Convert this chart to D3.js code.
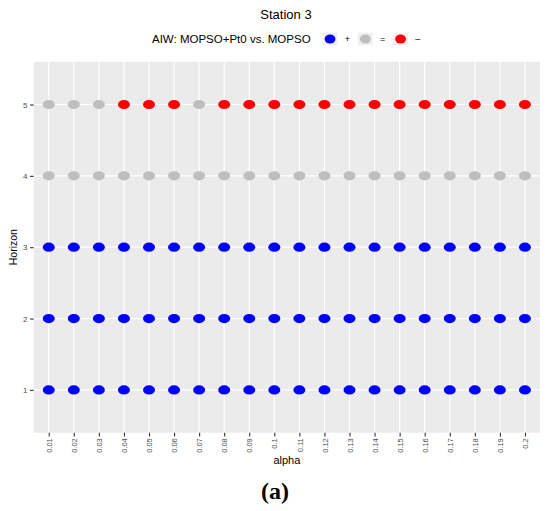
<!DOCTYPE html>
<html>
<head>
<meta charset="utf-8">
<script src="https://cdn.jsdelivr.net/npm/d3@7"></script>
<style>
  body { margin: 0; background: #fff; }
  text { font-family: "Liberation Sans", Arial, sans-serif; }
  text.caption { font-family: "Liberation Serif", "DejaVu Serif", serif; }
</style>
</head>
<body>
<div id="container"></div>
<script>
/* DATA */
const alphas = ["0.01", "0.02", "0.03", "0.04", "0.05", "0.06", "0.07", "0.08", "0.09", "0.1",
  "0.11", "0.12", "0.13", "0.14", "0.15", "0.16", "0.17", "0.18", "0.19", "0.2"];
const horizons = ["1", "2", "3", "4", "5"];
const categories = ["+", "=", "-"];
const categoryLabels = ["+", "=", "\u2013"];

// outcome per horizon, one entry per alpha
const horizon1 = ["+", "+", "+", "+", "+", "+", "+", "+", "+", "+", "+", "+", "+", "+", "+", "+", "+", "+", "+", "+"];
const horizon2 = ["+", "+", "+", "+", "+", "+", "+", "+", "+", "+", "+", "+", "+", "+", "+", "+", "+", "+", "+", "+"];
const horizon3 = ["+", "+", "+", "+", "+", "+", "+", "+", "+", "+", "+", "+", "+", "+", "+", "+", "+", "+", "+", "+"];
const horizon4 = ["=", "=", "=", "=", "=", "=", "=", "=", "=", "=", "=", "=", "=", "=", "=", "=", "=", "=", "=", "="];
const horizon5 = ["=", "=", "=", "-", "-", "-", "=", "-", "-", "-", "-", "-", "-", "-", "-", "-", "-", "-", "-", "-"];

/* CONSTANTS */
const width = 550, height = 511;
const panel = { left: 33.7, right: 540, top: 61.7, bottom: 432.7 };

const rows = [horizon1, horizon2, horizon3, horizon4, horizon5];
const data = [];
rows.forEach((row, i) => {
  row.forEach((v, j) => data.push({ alpha: alphas[j], horizon: horizons[i], result: v }));
});

/* SCALES */
// discrete axes with ggplot's 0.6 unit expansion
const xScale = d3.scalePoint()
  .domain(alphas)
  .range([panel.left, panel.right])
  .padding(0.6);

const yScale = d3.scalePoint()
  .domain(horizons)
  .range([panel.bottom, panel.top])
  .padding(0.6);

const colorScale = d3.scaleOrdinal()
  .domain(categories)
  .range(["#0000FF", "#BEBEBE", "#FF0000"]);

/* SVG */
const svg = d3.select("#container")
  .append("svg")
  .attr("width", width)
  .attr("height", height);

// panel background
svg.append("rect")
  .attr("x", panel.left)
  .attr("y", panel.top)
  .attr("width", panel.right - panel.left)
  .attr("height", panel.bottom - panel.top)
  .attr("fill", "#EBEBEB");

// grid lines
svg.append("g")
  .selectAll("line")
  .data(alphas)
  .join("line")
  .attr("x1", d => xScale(d)).attr("x2", d => xScale(d))
  .attr("y1", panel.top).attr("y2", panel.bottom)
  .attr("stroke", "#fff").attr("stroke-width", 1.2);

svg.append("g")
  .selectAll("line")
  .data(horizons)
  .join("line")
  .attr("x1", panel.left).attr("x2", panel.right)
  .attr("y1", d => yScale(d)).attr("y2", d => yScale(d))
  .attr("stroke", "#fff").attr("stroke-width", 1.2);

// x axis
const xAxis = svg.append("g")
  .attr("transform", `translate(0, ${panel.bottom})`)
  .call(d3.axisBottom(xScale).tickSize(3.7).tickPadding(2));
xAxis.select(".domain").remove();
xAxis.selectAll(".tick line").attr("stroke", "#333").attr("stroke-width", 1.1);
xAxis.selectAll(".tick text")
  .attr("fill", "#4D4D4D")
  .attr("font-size", 7.5)
  .attr("transform", "rotate(-90)")
  .attr("x", -5.5)
  .attr("y", 0)
  .attr("dy", "0.35em")
  .attr("text-anchor", "end");

// y axis
const yAxis = svg.append("g")
  .attr("transform", `translate(${panel.left}, 0)`)
  .call(d3.axisLeft(yScale).tickSize(3.7).tickPadding(2.5));
yAxis.select(".domain").remove();
yAxis.selectAll(".tick line").attr("stroke", "#333").attr("stroke-width", 1.1);
yAxis.selectAll(".tick text")
  .attr("fill", "#4D4D4D")
  .attr("font-size", 8);

// points
svg.append("g")
  .selectAll("ellipse")
  .data(data)
  .join("ellipse")
  .attr("cx", d => xScale(d.alpha))
  .attr("cy", d => yScale(d.horizon))
  .attr("rx", 6)
  .attr("ry", 4.6)
  .attr("fill", d => colorScale(d.result));

// titles
svg.append("text")
  .attr("x", 286).attr("y", 19)
  .attr("text-anchor", "middle")
  .attr("font-size", 13)
  .attr("fill", "#000")
  .text("Station 3");

svg.append("text")
  .attr("x", (panel.left + panel.right) / 2).attr("y", 463.5)
  .attr("text-anchor", "middle")
  .attr("font-size", 11)
  .attr("fill", "#000")
  .text("alpha");

svg.append("text")
  .attr("transform", `translate(16.5, ${(panel.top + panel.bottom) / 2}) rotate(-90)`)
  .attr("text-anchor", "middle")
  .attr("font-size", 10.5)
  .attr("fill", "#000")
  .text("Horizon");

svg.append("text")
  .attr("class", "caption")
  .attr("x", 275).attr("y", 499)
  .attr("text-anchor", "middle")
  .attr("font-weight", "bold")
  .attr("font-size", 24)
  .attr("fill", "#000")
  .text("(a)");

// legend
const legend = svg.append("g").attr("transform", "translate(0, 39)");
legend.append("text")
  .attr("x", 152).attr("y", 0)
  .attr("dy", "0.36em")
  .attr("font-size", 11.5)
  .attr("fill", "#000")
  .text("AIW: MOPSO+Pt0 vs. MOPSO");

const keyX = d3.scaleBand()
  .domain(categories)
  .range([322.7, 428.5]);

const keys = legend.selectAll(".key")
  .data(categories)
  .join("g")
  .attr("class", "key")
  .attr("transform", d => `translate(${keyX(d)}, 0)`);

keys.append("rect")
  .attr("x", 0).attr("y", -6.2)
  .attr("width", 14.7).attr("height", 12.4)
  .attr("fill", "#EFEFEF");

keys.append("ellipse")
  .attr("cx", 7.35).attr("cy", 0)
  .attr("rx", 5.4).attr("ry", 4.6)
  .attr("fill", d => colorScale(d));

keys.append("text")
  .attr("x", 22).attr("y", 0)
  .attr("dy", "0.35em")
  .attr("font-size", 9)
  .attr("fill", "#000")
  .text((d, i) => categoryLabels[i]);
</script>
</body>
</html>
